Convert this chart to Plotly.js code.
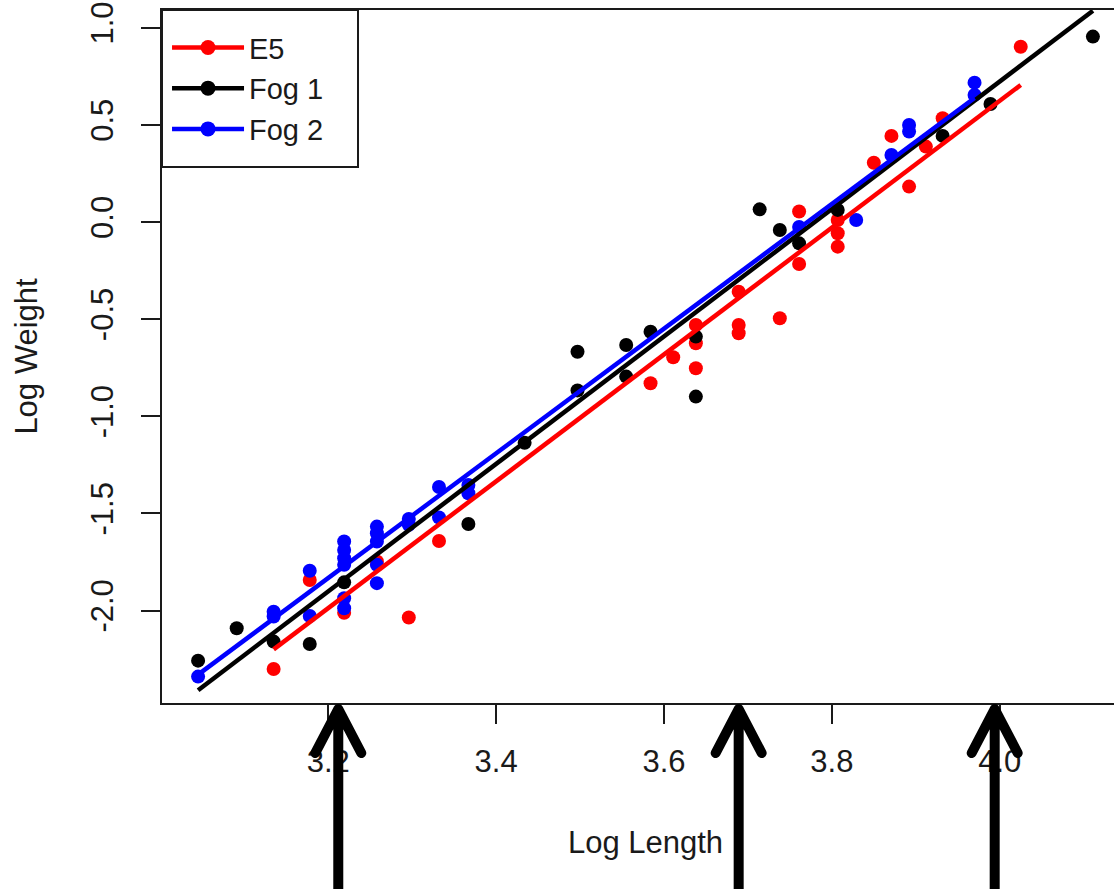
<!DOCTYPE html>
<html>
<head>
<meta charset="utf-8">
<script src="https://cdn.plot.ly/plotly-3.0.1.min.js"></script>
<style>
html,body{margin:0;padding:0;overflow:hidden;background:#ffffff;}
#chart{width:1149px;height:889px;}
</style>
</head>
<body>
<div id="chart"></div>
<script>
// ---- data ----
const seriesNames  = ['E5', 'Fog 1', 'Fog 2'];
const seriesColors = ['#ff0000', '#000000', '#0000ff'];

const e5X = [3.135, 3.178, 3.219, 3.258, 3.296, 3.332, 3.584, 3.611, 3.638, 3.638, 3.638, 3.689, 3.689, 3.689, 3.738, 3.761, 3.761, 3.807, 3.807, 3.807, 3.850, 3.871, 3.892, 3.912, 3.932, 4.025];
const e5Y = [-2.301, -1.843, -2.012, -1.748, -2.036, -1.642, -0.830, -0.696, -0.530, -0.624, -0.753, -0.359, -0.530, -0.573, -0.496, 0.054, -0.216, 0.010, -0.058, -0.127, 0.305, 0.443, 0.182, 0.388, 0.534, 0.902];

const fog1X = [3.045, 3.091, 3.135, 3.178, 3.219, 3.367, 3.434, 3.497, 3.497, 3.555, 3.555, 3.584, 3.638, 3.638, 3.714, 3.738, 3.761, 3.807, 3.932, 3.989, 4.111];
const fog1Y = [-2.258, -2.091, -2.160, -2.172, -1.855, -1.555, -1.137, -0.668, -0.867, -0.633, -0.796, -0.565, -0.590, -0.899, 0.065, -0.041, -0.110, 0.062, 0.443, 0.607, 0.954];

const fog2X = [3.045, 3.135, 3.135, 3.178, 3.178, 3.219, 3.219, 3.219, 3.219, 3.219, 3.219, 3.258, 3.258, 3.258, 3.258, 3.258, 3.296, 3.296, 3.332, 3.332, 3.367, 3.367, 3.761, 3.829, 3.871, 3.892, 3.892, 3.970, 3.970];
const fog2Y = [-2.340, -2.006, -2.031, -1.795, -2.028, -1.645, -1.688, -1.731, -1.765, -1.937, -1.988, -1.568, -1.602, -1.645, -1.765, -1.859, -1.529, -1.559, -1.364, -1.521, -1.354, -1.396, -0.026, 0.010, 0.345, 0.499, 0.465, 0.717, 0.654];

// fitted regression lines (end points)
const e5FitX   = [3.135, 4.025];
const e5FitY   = [-2.200, 0.705];
const fog1FitX = [3.045, 4.111];
const fog1FitY = [-2.410, 1.087];
const fog2FitX = [3.045, 3.970];
const fog2FitY = [-2.330, 0.638];

const xTickVals = [3.2, 3.4, 3.6, 3.8, 4.0];
const xTickText = ['3.2', '3.4', '3.6', '3.8', '4.0'];
const yTickVals = [-2.0, -1.5, -1.0, -0.5, 0.0, 0.5, 1.0];
const yTickText = ['-2.0', '-1.5', '-1.0', '-0.5', '0.0', '0.5', '1.0'];

const xTitle = 'Log Length';
const yTitle = 'Log Weight';

// x positions the three annotation arrows point at
const arrowX = [3.212, 3.689, 3.994];

// ---- build traces ----
const pointSets = [[e5X, e5Y], [fog1X, fog1Y], [fog2X, fog2Y]];
const fitSets   = [[e5FitX, e5FitY], [fog1FitX, fog1FitY], [fog2FitX, fog2FitY]];

const FONT = 'Liberation Sans, Arial, Helvetica, sans-serif';
const TXT = '#1a1a1a';

const traces = [];
pointSets.forEach((s, i) => {
  traces.push({
    type: 'scatter', mode: 'markers',
    x: s[0], y: s[1],
    name: seriesNames[i], showlegend: false,
    marker: {color: seriesColors[i], size: 14, line: {width: 0}},
    hoverinfo: 'x+y+name'
  });
});
fitSets.forEach((s, i) => {
  traces.push({
    type: 'scatter', mode: 'lines+markers',
    x: s[0], y: s[1],
    name: seriesNames[i], showlegend: true,
    line: {color: seriesColors[i], width: 4.5},
    marker: {color: seriesColors[i], size: 15},
    selectedpoints: [],
    unselected: {marker: {opacity: 0}},
    hoverinfo: 'skip'
  });
});

const arrowShapes = arrowX.map(ax => ({
  type: 'path', xref: 'x', yref: 'paper',
  xsizemode: 'pixel', ysizemode: 'pixel', xanchor: ax, yanchor: 0,
  path: 'M0,-6 L0,-320 M-23,-50 L0,-6 L23,-50',
  line: {color: '#000000', width: 10},
  layer: 'above'
}));

const legendBox = {
  type: 'rect', xref: 'paper', yref: 'paper',
  x0: 0, x1: 0.2027, y0: 0.7734, y1: 1,
  line: {color: '#1a1a1a', width: 2}, fillcolor: '#ffffff', layer: 'above'
};

const layout = {
  width: 1149, height: 889,
  margin: {l: 162, r: 20, t: 10, b: 186, pad: 0},
  paper_bgcolor: '#ffffff', plot_bgcolor: '#ffffff',
  font: {family: FONT, size: 31, color: TXT},
  showlegend: true,
  legend: {
    x: 0.0052, y: 0.9825, xanchor: 'left', yanchor: 'top',
    bgcolor: 'rgba(0,0,0,0)', borderwidth: 0, tracegroupgap: 0,
    font: {family: FONT, size: 29, color: TXT},
    itemwidth: 72, itemclick: false, itemdoubleclick: false
  },
  xaxis: {
    range: [3.002, 4.154], autorange: false,
    showgrid: false, zeroline: false,
    showline: true, mirror: true, linecolor: '#1a1a1a', linewidth: 2,
    ticks: 'outside', ticklen: 19, tickwidth: 2, tickcolor: '#1a1a1a',
    tickmode: 'array', tickvals: xTickVals, ticktext: xTickText,
    tickfont: {family: FONT, size: 31, color: TXT},
    ticklabelstandoff: 11,
    title: {text: xTitle, font: {family: FONT, size: 31, color: TXT}, standoff: 53}
  },
  yaxis: {
    range: [-2.476, 1.091], autorange: false,
    showgrid: false, zeroline: false,
    showline: true, mirror: true, linecolor: '#1a1a1a', linewidth: 2,
    ticks: 'outside', ticklen: 19, tickwidth: 2, tickcolor: '#1a1a1a',
    tickmode: 'array', tickvals: yTickVals, ticktext: yTickText,
    tickangle: -90,
    tickfont: {family: FONT, size: 31, color: TXT},
    ticklabelstandoff: 16,
    title: {text: yTitle, font: {family: FONT, size: 31, color: TXT}, standoff: 38}
  },
  shapes: [legendBox].concat(arrowShapes)
};

Plotly.newPlot('chart', traces, layout, {displayModeBar: false, responsive: false}).then(() => {
  document.querySelectorAll('.shapelayer path').forEach(p => {
    const st = p.getAttribute('style') || '';
    if (st.indexOf('stroke-width: 10') >= 0) {
      p.style.strokeLinejoin = 'round';
      p.style.strokeLinecap = 'round';
    }
  });
});
</script>
</body>
</html>
